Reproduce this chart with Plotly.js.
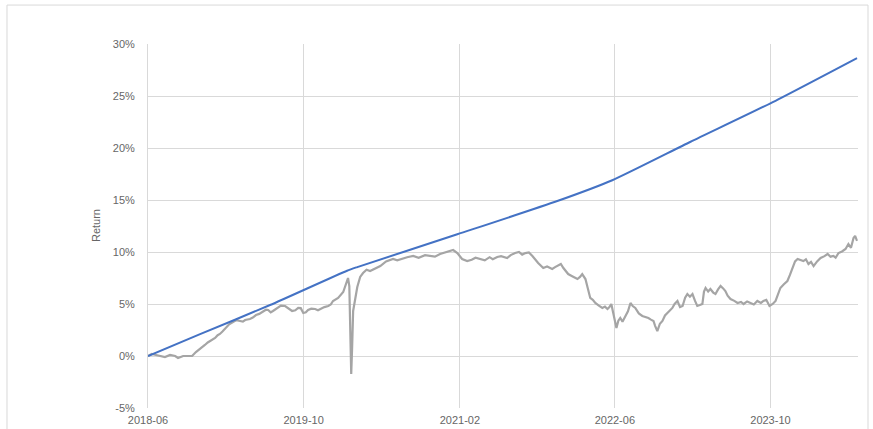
<!DOCTYPE html>
<html>
<head>
<meta charset="utf-8">
<script src="https://cdn.plot.ly/plotly-3.0.1.min.js"></script>
<style>html,body{margin:0;padding:0;background:#fff;}#chart{width:873px;height:429px;}</style>
</head>
<body>
<div id="chart"></div>
<script>
// Gray series (actual return), values in %
const grayDates = [
"2018-06-01","2018-06-13","2018-06-26","2018-07-08","2018-07-24","2018-08-09","2018-08-25","2018-09-03","2018-09-19","2018-10-04",
"2018-10-17","2018-10-29","2018-11-11","2018-11-18","2018-11-26","2018-12-05","2018-12-12","2018-12-20","2018-12-28","2019-01-05",
"2019-01-12","2019-01-20","2019-01-31","2019-02-10","2019-02-22","2019-03-05","2019-03-16","2019-03-25","2019-04-01","2019-04-16",
"2019-04-25","2019-05-05","2019-05-15","2019-05-24","2019-06-05","2019-06-12","2019-06-20","2019-06-27","2019-07-05","2019-07-13",
"2019-07-22","2019-08-04","2019-08-15","2019-08-26","2019-09-05","2019-09-14","2019-09-22","2019-09-30","2019-10-08","2019-10-15",
"2019-10-25","2019-11-06","2019-11-15","2019-11-28","2019-12-05","2019-12-17","2019-12-25","2020-01-01","2020-01-10","2020-01-17",
"2020-02-02","2020-02-11","2020-02-17","2020-02-21","2020-02-24","2020-02-27","2020-03-01","2020-03-04","2020-03-17","2020-03-26",
"2020-04-04","2020-04-15","2020-04-26","2020-05-10","2020-05-28","2020-06-15","2020-07-07","2020-07-20","2020-08-08","2020-08-20",
"2020-09-08","2020-09-25","2020-10-15","2020-10-31","2020-11-15","2020-12-01","2020-12-15","2021-01-02","2021-01-11","2021-01-24",
"2021-02-08","2021-02-24","2021-03-10","2021-03-22","2021-04-06","2021-04-20","2021-05-05","2021-05-15","2021-05-29","2021-06-10",
"2021-06-29","2021-07-10","2021-07-24","2021-08-05","2021-08-15","2021-08-25","2021-09-05","2021-09-16","2021-10-04","2021-10-12",
"2021-10-20","2021-11-01","2021-11-17","2021-11-26","2021-12-06","2021-12-14","2021-12-22","2022-01-06","2022-01-20","2022-02-04",
"2022-02-12","2022-02-19","2022-03-01","2022-03-08","2022-03-16","2022-03-24","2022-04-01","2022-04-12","2022-04-23","2022-05-01",
"2022-05-09","2022-05-15","2022-05-21","2022-05-27","2022-06-06","2022-06-12","2022-06-18","2022-06-25","2022-07-04","2022-07-12",
"2022-07-20","2022-07-27","2022-08-04","2022-08-15","2022-08-26","2022-09-05","2022-09-14","2022-09-22","2022-09-30","2022-10-05",
"2022-10-12","2022-10-20","2022-10-28","2022-11-05","2022-11-12","2022-11-20","2022-11-28","2022-12-05","2022-12-14","2022-12-22",
"2022-12-30","2023-01-07","2023-01-14","2023-01-22","2023-01-30","2023-02-07","2023-02-14","2023-02-22","2023-03-02","2023-03-07",
"2023-03-12","2023-03-20","2023-03-27","2023-04-05","2023-04-12","2023-04-20","2023-04-28","2023-05-06","2023-05-13","2023-05-20",
"2023-05-29","2023-06-10","2023-06-20","2023-07-01","2023-07-09","2023-07-20","2023-07-30","2023-08-10","2023-08-21","2023-09-01",
"2023-09-09","2023-09-18","2023-09-28","2023-10-08","2023-10-17","2023-10-25","2023-11-01","2023-11-12","2023-11-23","2023-12-01",
"2023-12-09","2023-12-17","2023-12-25","2024-01-05","2024-01-12","2024-01-20","2024-01-28","2024-02-05","2024-02-13","2024-02-24",
"2024-03-06","2024-03-18","2024-03-28","2024-04-06","2024-04-15","2024-04-22","2024-05-01","2024-05-12","2024-05-23","2024-06-01",
"2024-06-09","2024-06-17","2024-06-22","2024-06-28"
];
const grayValues = [
0.00,0.19,0.10,0.00,-0.10,0.10,0.00,-0.19,0.00,0.00,
0.00,0.38,0.67,0.80,1.06,1.30,1.44,1.55,1.73,2.00,
2.12,2.35,2.69,3.05,3.27,3.45,3.37,3.30,3.46,3.56,
3.70,3.94,4.05,4.23,4.45,4.42,4.20,4.33,4.50,4.62,
4.85,4.81,4.55,4.33,4.40,4.62,4.60,4.13,4.20,4.42,
4.55,4.52,4.40,4.62,4.70,4.81,4.95,5.29,5.45,5.58,
6.15,7.02,7.50,6.73,2.40,-1.73,0.96,4.33,6.63,7.60,
7.98,8.30,8.17,8.40,8.65,9.10,9.33,9.20,9.42,9.50,
9.62,9.45,9.70,9.62,9.55,9.81,9.95,10.10,10.19,9.90,
9.33,9.13,9.25,9.45,9.33,9.20,9.50,9.30,9.52,9.60,
9.42,9.70,9.90,10.00,9.75,9.90,9.95,9.62,8.94,8.70,
8.46,8.60,8.37,8.55,8.75,8.85,8.46,7.88,7.65,7.40,
7.60,7.88,7.40,6.50,5.58,5.40,5.10,4.85,4.62,4.75,
4.52,4.70,5.00,4.13,2.69,3.40,3.65,3.30,3.85,4.30,
5.10,4.80,4.62,4.10,3.85,3.75,3.65,3.50,3.37,2.90,
2.40,3.10,3.37,3.90,4.13,4.40,4.62,5.00,5.29,4.70,
4.81,5.60,5.96,5.70,5.96,5.30,4.81,4.90,5.00,6.20,
6.54,6.20,6.44,6.10,5.96,6.40,6.73,6.50,6.25,5.80,
5.48,5.30,5.10,5.20,5.00,5.25,5.10,4.95,5.29,5.10,
5.29,5.40,4.81,5.00,5.29,6.00,6.54,6.90,7.21,7.80,
8.46,9.10,9.33,9.20,9.13,9.30,8.85,9.05,8.65,9.10,
9.42,9.60,9.81,9.55,9.62,9.45,9.90,10.05,10.29,10.77,
10.40,11.35,11.55,11.06
];
// Blue series (target / expected return), values in %
const blueDates = ["2018-06-01","2018-11-11","2019-06-18","2020-02-14","2020-03-17","2021-01-24","2021-12-03","2022-05-24","2023-01-24","2023-10-01","2024-06-28"];
const blueValues = [0.0,2.1,4.9,8.2,8.55,11.7,14.9,16.9,20.6,24.3,28.65];

const xTickVals = ["2018-06-01","2019-10-01","2021-02-01","2022-06-01","2023-10-01"];
const xTickText = ["2018-06","2019-10","2021-02","2022-06","2023-10"];
const yTickVals = [-5,0,5,10,15,20,25,30];
const yTickText = ["-5%","0%","5%","10%","15%","20%","25%","30%"];

const font = {family:"Liberation Sans, Arial, sans-serif", size:11, color:"#666666"};
const traces = [
  {x:grayDates, y:grayValues, type:"scatter", mode:"lines", line:{color:"#a5a5a5", width:2.2}, hoverinfo:"skip"},
  {x:blueDates, y:blueValues, type:"scatter", mode:"lines", line:{color:"#4472c4", width:2, shape:"spline", smoothing:0.6}, hoverinfo:"skip"}
];
const layout = {
  width:873, height:429,
  margin:{l:148, r:15, t:44, b:21},
  paper_bgcolor:"#fff", plot_bgcolor:"#fff",
  showlegend:false,
  font:font,
  xaxis:{type:"date", range:["2018-06-01","2024-07-01"], tickvals:xTickVals, ticktext:xTickText,
         showgrid:true, gridcolor:"#d9d9d9", gridwidth:1, zeroline:false, showline:false, ticks:"",
         ticklabelstandoff:4, tickfont:font, fixedrange:true},
  yaxis:{range:[-5,30], tickvals:yTickVals, ticktext:yTickText, showgrid:true, gridcolor:"#d9d9d9", gridwidth:1,
         zeroline:false, showline:true, linecolor:"#d9d9d9", linewidth:1, ticks:"", ticklabelstandoff:10,
         tickfont:font, fixedrange:true},
  annotations:[{text:"Return", xref:"paper", yref:"paper", x:-0.0732, y:0.5, textangle:-90, showarrow:false,
                font:font, xanchor:"center", yanchor:"middle"}],
  shapes:[{type:"rect", xref:"paper", yref:"paper", x0:-0.1986, x1:1.0141, y0:-0.12, y1:1.107,
           line:{color:"#d9d9d9", width:1}, fillcolor:"rgba(0,0,0,0)", layer:"below"}]
};
Plotly.newPlot("chart", traces, layout, {staticPlot:true, displayModeBar:false});
</script>
</body>
</html>
